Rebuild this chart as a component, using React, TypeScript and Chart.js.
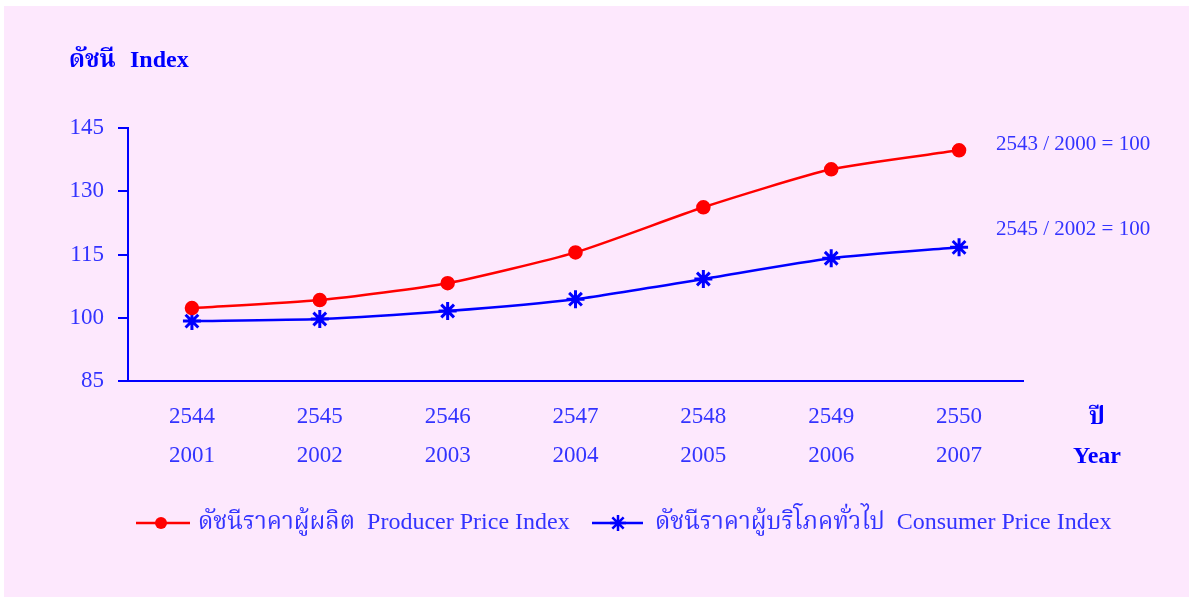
import React, { useEffect, useRef } from 'react';
import { Chart, registerables } from 'chart.js';

Chart.register(...registerables);

// ---- data ----
const yearsBE = ['2544', '2545', '2546', '2547', '2548', '2549', '2550'];
const yearsCE = ['2001', '2002', '2003', '2004', '2005', '2006', '2007'];
const ppiValues = [102.3, 104.2, 108.2, 115.5, 126.2, 135.2, 139.7];
const cpiValues = [99.2, 99.7, 101.6, 104.4, 109.2, 114.1, 116.7];
const yMin = 85;
const yMax = 145;
const yStep = 15;
const ppiLabelTh = 'ดัชนีราคาผู้ผลิต';
const ppiLabelEn = 'Producer Price Index';
const cpiLabelTh = 'ดัชนีราคาผู้บริโภคทั่วไป';
const cpiLabelEn = 'Consumer Price Index';
const baseNotes = ['2543 / 2000 = 100', '2545 / 2002 = 100'];
const yTitle = ['ดัชนี', 'Index'];
const xTitle = ['ปี', 'Year'];

const FONT = "'Liberation Serif', 'Noto Serif Thai', 'Noto Sans Thai', 'Loma', 'Garuda', 'Norasi', serif";
const BLUE = '#0000FF';
const TEXT_BLUE = '#3333FF';
const RED = '#FF0000';
const PINK = '#FDE8FD';

function drawStar(ctx: CanvasRenderingContext2D, x: number, y: number, r: number, color: string) {
  ctx.save();
  ctx.strokeStyle = color;
  ctx.lineWidth = 2.5;
  ctx.beginPath();
  ctx.moveTo(x - r, y);
  ctx.lineTo(x + r, y);
  ctx.moveTo(x, y - r);
  ctx.lineTo(x, y + r);
  const d = r * Math.SQRT1_2;
  ctx.moveTo(x - d, y - d);
  ctx.lineTo(x + d, y + d);
  ctx.moveTo(x - d, y + d);
  ctx.lineTo(x + d, y - d);
  ctx.stroke();
  ctx.restore();
}

const decorPlugin = {
  id: 'decor',
  beforeDraw(chart: any) {
    const ctx = chart.ctx as CanvasRenderingContext2D;
    ctx.save();
    ctx.fillStyle = '#FFFFFF';
    ctx.fillRect(0, 0, chart.width, chart.height);
    ctx.fillStyle = PINK;
    ctx.fillRect(4, 6, chart.width - 6, chart.height - 6);
    ctx.restore();
  },
  afterDraw(chart: any) {
    const ctx = chart.ctx as CanvasRenderingContext2D;
    const area = chart.chartArea;
    ctx.save();
    // y title
    ctx.fillStyle = BLUE;
    ctx.font = `bold 24px ${FONT}`;
    ctx.textAlign = 'left';
    ctx.textBaseline = 'middle';
    ctx.fillText(yTitle[0], 69, 61);
    ctx.fillText(yTitle[1], 130, 61);
    // x title
    ctx.textAlign = 'center';
    ctx.fillText(xTitle[0], 1097, 418);
    ctx.fillText(xTitle[1], 1097, 457);
    // base notes
    ctx.fillStyle = TEXT_BLUE;
    ctx.font = `21px ${FONT}`;
    ctx.textAlign = 'left';
    ctx.fillText(baseNotes[0], area.right - 27, 144);
    ctx.fillText(baseNotes[1], area.right - 27, 229);
    // legend
    const ly = 523;
    const ds0 = chart.data.datasets[0];
    const ds1 = chart.data.datasets[1];
    ctx.lineWidth = 2.5;
    ctx.strokeStyle = ds0.borderColor;
    ctx.beginPath();
    ctx.moveTo(136, ly);
    ctx.lineTo(190, ly);
    ctx.stroke();
    ctx.fillStyle = ds0.pointBackgroundColor;
    ctx.beginPath();
    ctx.arc(161, ly, 6, 0, Math.PI * 2);
    ctx.fill();
    ctx.strokeStyle = ds1.borderColor;
    ctx.beginPath();
    ctx.moveTo(592, ly);
    ctx.lineTo(643, ly);
    ctx.stroke();
    drawStar(ctx, 618, ly, 8, ds1.borderColor);
    ctx.fillStyle = TEXT_BLUE;
    ctx.font = `24px ${FONT}`;
    ctx.textAlign = 'left';
    ctx.fillText(ds0.label, 198, ly);
    ctx.fillText(ds1.label, 655, ly);
    ctx.restore();
  },
};

export default function App() {
  const ref = useRef<HTMLCanvasElement | null>(null);
  useEffect(() => {
    if (!ref.current) return;
    const labels = yearsBE.map((b, i) => [b, yearsCE[i]]);
    const chart = new Chart(ref.current, {
      type: 'line',
      data: {
        labels,
        datasets: [
          {
            label: `${ppiLabelTh}  ${ppiLabelEn}`,
            data: ppiValues,
            borderColor: RED,
            backgroundColor: RED,
            pointBackgroundColor: RED,
            pointBorderColor: RED,
            pointStyle: 'circle',
            pointRadius: 6,
            borderWidth: 2.5,
            tension: 0.2,
          },
          {
            label: `${cpiLabelTh}  ${cpiLabelEn}`,
            data: cpiValues,
            borderColor: BLUE,
            backgroundColor: BLUE,
            pointBackgroundColor: BLUE,
            pointBorderColor: BLUE,
            pointStyle: 'star',
            pointRadius: 9,
            pointBorderWidth: 3,
            borderWidth: 2.5,
            tension: 0.2,
          },
        ],
      },
      plugins: [decorPlugin],
      options: {
        responsive: false,
        animation: false,
        devicePixelRatio: 1,
        layout: { padding: { left: 0, right: 168, top: 128, bottom: 0 } },
        plugins: {
          legend: { display: false },
          tooltip: { enabled: false },
        },
        scales: {
          x: {
            type: 'category',
            offset: true,
            grid: { display: false, drawOnChartArea: false, drawTicks: false },
            border: { display: true, color: BLUE, width: 2 },
            ticks: {
              color: TEXT_BLUE,
              font: { family: FONT, size: 23, lineHeight: 1.7 },
              padding: 16,
              maxRotation: 0,
              autoSkip: false,
            },
            afterFit(scale: any) {
              scale.height = 216;
            },
          },
          y: {
            min: yMin,
            max: yMax,
            grid: {
              drawOnChartArea: false,
              drawTicks: true,
              tickLength: 10,
              color: BLUE,
              lineWidth: 2,
            },
            border: { display: true, color: BLUE, width: 2 },
            ticks: {
              stepSize: yStep,
              color: TEXT_BLUE,
              font: { family: FONT, size: 23 },
              padding: 14,
            },
            afterFit(scale: any) {
              scale.width = 128;
            },
          },
        },
      },
    } as any);
    return () => chart.destroy();
  }, []);
  return (
    <div style={{ position: 'absolute', left: 0, top: 0, width: 1191, height: 597 }}>
      <canvas ref={ref} width={1191} height={597} style={{ display: 'block', width: 1191, height: 597 }} />
    </div>
  );
}
